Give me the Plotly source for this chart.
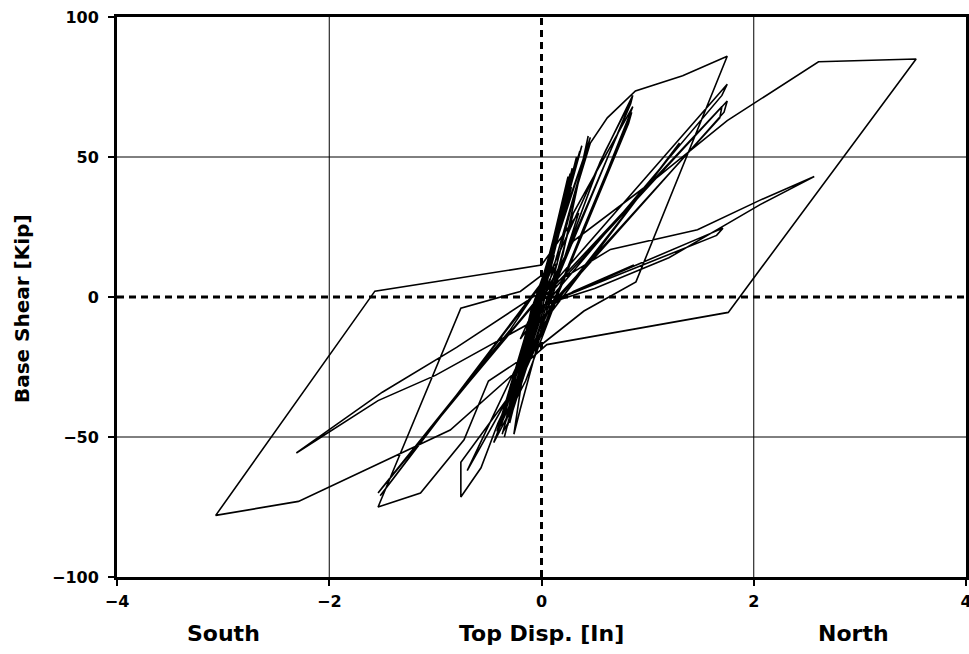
import plotly.graph_objects as go

# ---- data (Top displacement [in], Base shear [kip]) ----
p1_disp = [0.00, 0.06, -0.05, 0.10, -0.08, 0.14, -0.12, 0.18, -0.15, 0.12, -0.20, 0.22, -0.18, 0.25, 0.28, -0.28, -0.24, 0.18, -0.32, 0.05]
p1_shear = [0, 8, -6, 14, -11, 20, -17, 27, -22, 15, -30, 34, -26, 43, 39, -40, -36, 26, -46, 2]

p2_disp = [0.30, 0.46, 0.40, -0.10, -0.36, -0.30, 0.20, 0.44, 0.40, -0.10, -0.26, -0.20, 0.30, 0.86, 0.83, 0.20]
p2_shear = [35, 57, 50, -5, -48, -44, 15, 57.5, 50, -8, -49, -40, 30, 68, 65, 5]

p3_disp = [-0.20, -0.76, -0.76, -0.57, -0.41, 0.05, 0.40, 0.85, 0.82, 0.25, -0.30, -0.70, -0.65, -0.05]
p3_shear = [-30, -59, -71.4, -61, -45, -8, 25, 66, 62, 10, -35, -62, -58, -10]

mid_disp = [0.22, -0.25, 0.30, -0.20, 0.18, -0.30, 0.26, -0.15, 0.15, -0.28, 0.32, -0.22, 0.20, -0.35, 0.28, -0.18,
            0.24, -0.12, 0.33, -0.27, 0.16, -0.40, 0.36, -0.10, 0.27, -0.33, 0.12, -0.42, 0.38, -0.20,
            0.21, -0.31, 0.29, -0.24, 0.19, -0.37, 0.34, -0.16, 0.23, -0.29, 0.14, -0.38, 0.31, -0.21]
mid_shear = [36, -38, 45, -30, 30, -45, 40, -24, 22, -42, 48, -34, 30, -50, 42, -28,
             38, -18, 50, -40, 25, -47, 52, -14, 44, -44, 18, -48, 54, -26,
             33, -43, 46, -35, 28, -49, 50, -22, 37, -41, 20, -46, 47, -31]

p4_disp = [0.10, 0.30, 0.46, 0.62, 0.885, 1.33, 1.75, 0.89, 0.40, -0.10]
p4_shear = [5, 35, 55, 64, 73.6, 79, 86, 5.4, -5, -20]

p5_disp = [-0.50, -0.73, -1.14, -1.54, -0.76, -0.20, 0.15]
p5_shear = [-30, -51, -70, -75, -4, 2, 12]

p6_disp = [0.00, 1.75, 1.70, 0.05, -0.20, 0.60, 0.84, 0.80, 0.10, 0.55, 0.86, 0.84, 0.15]
p6_shear = [0, 76, 72, -2, -15, 52, 70, 66, 2, 48, 72, 69, 8]

p7_disp = [-1.00, -1.54, -1.50, -0.80, -0.30, 0.00, -0.90, -1.52, -1.48, -0.05, -0.70, -1.10, -1.05, -0.10]
p7_shear = [-45, -70, -68, -35, -12, 5, -40, -71, -69, 2, -30, -50, -47, -4]

p8_disp = [0.05, 1.75, 1.72, 0.10, -0.10, 1.70, 1.68, 0.15, -0.15, -0.45, -0.40, 0.10, 1.30, 1.25, 0.05]
p8_shear = [0, 70, 66, -3, -5, 68, 64, 0, -30, -52, -47, -5, 55, 52, -6]

p9_disp = [-1.00, -1.54, -2.31, -1.50, -0.80, 0.00]
p9_shear = [-28, -37, -55.7, -34, -18, 2]

p10_disp = [0.65, 1.47, 2.06, 2.57, 2.06, 1.20, 0.50, 0.00, 1.71, 1.65, 0.20, 0.87, 0.30, -0.10]
p10_shear = [17, 24, 34.6, 43, 33, 14, 3, -3, 24.6, 22, 0, 11.4, 2, -8]

p11_disp = [0.30, 1.00, 1.75, 2.61, 3.53, 1.76, 0.05, -0.25, -0.86, -2.29, -3.07, -1.57, 0.00]
p11_shear = [20, 40, 63, 84, 85, -5.5, -17, -27, -47.5, -73, -78, 2.1, 11.4]

p12_disp = [0.35, 0.10, -0.15, 0.20, -0.10, 0.12, -0.05, 0.25, -0.22, 0.18, -0.08, 0.05, 0.00]
p12_shear = [30, 0, -25, 28, -15, 18, -8, 38, -32, 30, -12, 6, 0]

x_ticks = [-4, -2, 0, 2, 4]
y_ticks = [-100, -50, 0, 50, 100]

disp = (p1_disp + p2_disp + p3_disp + mid_disp + p4_disp + p5_disp + p6_disp + p7_disp
        + p8_disp + p9_disp + p10_disp + p11_disp + p12_disp)
shear = (p1_shear + p2_shear + p3_shear + mid_shear + p4_shear + p5_shear + p6_shear + p7_shear
         + p8_shear + p9_shear + p10_shear + p11_shear + p12_shear)

FONT = "DejaVu Sans"

fig = go.Figure()
fig.add_trace(go.Scatter(x=disp, y=shear, mode="lines",
                         line=dict(color="black", width=1.6), hoverinfo="skip"))

# grid lines (solid) and zero lines (dashed)
shapes = []
for gx in (-2, 2):
    shapes.append(dict(type="line", xref="x", yref="paper", x0=gx, x1=gx, y0=0, y1=1,
                       line=dict(color="black", width=1), layer="below"))
for gy in (-50, 50):
    shapes.append(dict(type="line", xref="paper", yref="y", x0=0, x1=1, y0=gy, y1=gy,
                       line=dict(color="black", width=1), layer="below"))
shapes.append(dict(type="line", xref="x", yref="paper", x0=0, x1=0, y0=0, y1=1,
                   line=dict(color="black", width=3, dash="7px,5px"), layer="below"))
shapes.append(dict(type="line", xref="paper", yref="y", x0=0, x1=1, y0=0, y1=0,
                   line=dict(color="black", width=3, dash="7px,5px"), layer="below"))

axis_common = dict(showgrid=False, zeroline=False, showline=True, linewidth=3,
                   linecolor="black", mirror=True, ticks="outside", ticklen=6,
                   tickwidth=2, tickcolor="black", automargin=False,
                   ticklabeloverflow="allow",
                   tickfont=dict(family=FONT, size=16, color="black", weight="bold"))

title_font = dict(family=FONT, size=22, color="black", weight="bold")

fig.update_layout(
    width=969, height=654,
    margin=dict(l=117, r=3, t=17, b=77),
    plot_bgcolor="white", paper_bgcolor="white",
    showlegend=False,
    shapes=shapes,
    xaxis=dict(range=[-4, 4], tickvals=x_ticks, ticklabelstandoff=2, **axis_common),
    yaxis=dict(range=[-100, 100], tickvals=y_ticks, ticklabelstandoff=6, **axis_common),
    annotations=[
        dict(text="Base Shear [Kip]", xref="paper", yref="paper", x=-0.112, y=0.48,
             textangle=-90, showarrow=False, xanchor="center", yanchor="middle",
             font=dict(family=FONT, size=20, color="black", weight="bold")),
        dict(text="South", xref="paper", yref="paper", x=0.125, y=-0.1,
             showarrow=False, xanchor="center", yanchor="middle", font=title_font),
        dict(text="Top Disp. [In]", xref="paper", yref="paper", x=0.5, y=-0.1,
             showarrow=False, xanchor="center", yanchor="middle", font=title_font),
        dict(text="North", xref="paper", yref="paper", x=0.868, y=-0.1,
             showarrow=False, xanchor="center", yanchor="middle", font=title_font),
    ],
)

fig.write_html("out.html", config={"displayModeBar": False},
               post_script="document.body.style.margin='0';")
